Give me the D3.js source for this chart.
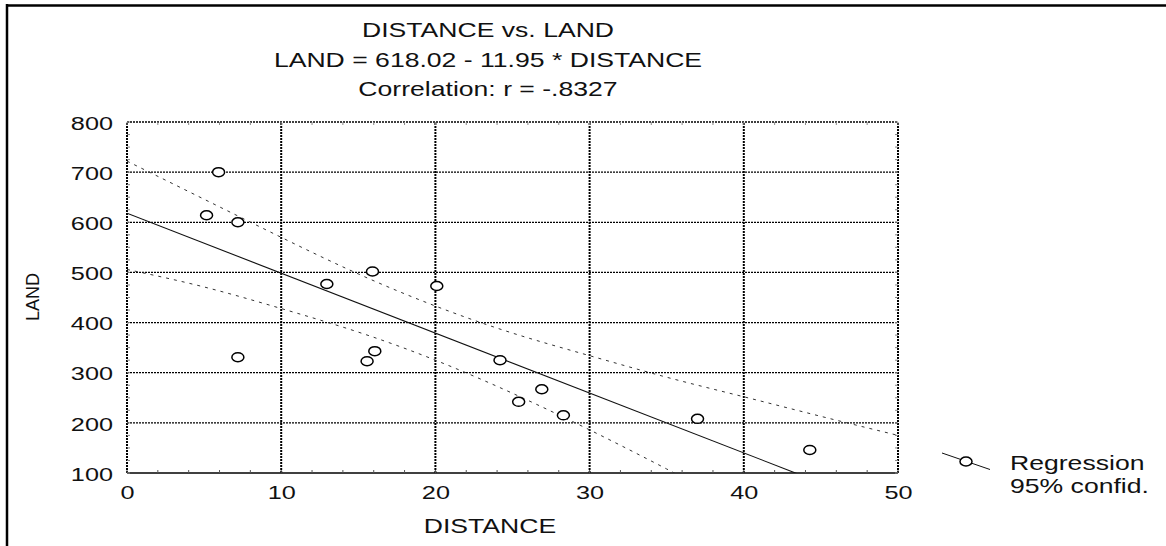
<!DOCTYPE html>
<html>
<head>
<meta charset="utf-8">
<script src="https://cdn.jsdelivr.net/npm/d3@7"></script>
<style>
  body { margin: 0; background: #fff; }
  text { font-family: "Liberation Sans", Arial, sans-serif; fill: #111; }
</style>
</head>
<body>
<svg width="1166" height="546"></svg>
<script>
// scatter points
const distance = [5.16, 5.94, 7.19, 7.19, 12.96, 15.57, 15.92, 16.07, 20.09, 24.19, 25.4, 26.9, 28.3, 37.0, 44.28];
const land     = [614, 700, 600, 331, 477, 323, 502, 343, 473, 325, 242, 267, 215, 208, 146];

// regression line from the title
const intercept = 618.02;
const slope = -11.95;

// 95% confidence band, read at these distances
const bandX     = [0, 5, 10, 15, 20, 25, 30, 35, 40, 45, 50];
const bandUpper = [722, 646, 570, 497, 433, 379, 334, 291, 252, 213, 175];
const bandLower = [506, 471, 428, 381, 325, 259, 186, 108, 28, -52, -135];

const xTicks = [0, 10, 20, 30, 40, 50];
const yTicks = [100, 200, 300, 400, 500, 600, 700, 800];
const titleLines = ['DISTANCE vs. LAND', 'LAND = 618.02 - 11.95 * DISTANCE', 'Correlation: r = -.8327'];
const legendLines = ['Regression', '95% confid.'];

const svg = d3.select('svg');
const SX = 1.33; // the picture is stretched sideways

const x = d3.scaleLinear().domain([0, 50]).range([127, 898]);
const y = d3.scaleLinear().domain([100, 800]).range([473, 122]);

// outer frame (top and left only)
svg.append('line').attr('x1', 6).attr('x2', 1166).attr('y1', 5.5).attr('y2', 5.5)
  .attr('stroke', '#000').attr('stroke-width', 2.5);
svg.append('line').attr('x1', 7).attr('x2', 7).attr('y1', 4).attr('y2', 546)
  .attr('stroke', '#000').attr('stroke-width', 2.5);

// stretched text helper
const stext = (sel, str, px, py, size, anchor) =>
  sel.append('text')
    .attr('transform', `translate(${px},${py}) scale(${SX},1)`)
    .attr('text-anchor', anchor || 'middle')
    .style('font-size', size + 'px')
    .text(str);

// title
titleLines.forEach((t, i) => stext(svg, t, 488, [36.7, 67.3, 96][i], 20));

// grid
const grid = svg.append('g');
grid.selectAll('.gy').data(yTicks).enter().append('line')
  .attr('x1', x(0)).attr('x2', x(50))
  .attr('y1', d => y(d)).attr('y2', d => y(d))
  .attr('stroke', '#000').attr('stroke-width', d => d === 100 ? 1.5 : 1.3)
  .attr('stroke-dasharray', d => d === 100 ? null : '2,1');
grid.selectAll('.gx').data(xTicks).enter().append('line')
  .attr('x1', d => x(d)).attr('x2', d => x(d))
  .attr('y1', y(100)).attr('y2', y(800))
  .attr('stroke', '#000').attr('stroke-width', 2)
  .attr('stroke-dasharray', '2,1');

// minor ticks on all four sides
const minorX = d3.range(0, 50.01, 2);
const minorY = d3.range(100, 800.01, 25);
grid.selectAll('.mb').data(minorX).enter().append('line')
  .attr('x1', d => x(d)).attr('x2', d => x(d))
  .attr('y1', y(100)).attr('y2', y(100) - 3)
  .attr('stroke', '#555').attr('stroke-width', 1);
grid.selectAll('.mt').data(minorX).enter().append('line')
  .attr('x1', d => x(d)).attr('x2', d => x(d))
  .attr('y1', y(800)).attr('y2', y(800) + 3)
  .attr('stroke', '#888').attr('stroke-width', 1);
grid.selectAll('.ml').data(minorY).enter().append('line')
  .attr('x1', x(0)).attr('x2', x(0) + 3)
  .attr('y1', d => y(d)).attr('y2', d => y(d))
  .attr('stroke', '#888').attr('stroke-width', 1);
grid.selectAll('.mr').data(minorY).enter().append('line')
  .attr('x1', x(50)).attr('x2', x(50) - 3)
  .attr('y1', d => y(d)).attr('y2', d => y(d))
  .attr('stroke', '#888').attr('stroke-width', 1);

// axes (labels only)
const yAxis = svg.append('g').attr('transform', `translate(${x(0)},0)`)
  .call(d3.axisLeft(y).tickValues(yTicks).tickSize(0).tickFormat(d3.format('d')));
yAxis.select('.domain').remove();
yAxis.selectAll('text')
  .attr('x', -14 / SX).attr('dy', '0.38em')
  .attr('transform', `scale(${SX},1)`)
  .style('font-size', '19px').attr('fill', '#111');

const xAxis = svg.append('g').attr('transform', `translate(0,${y(100)})`)
  .call(d3.axisBottom(x).tickValues(xTicks).tickSize(0));
xAxis.select('.domain').remove();
xAxis.selectAll('text')
  .attr('y', 26).attr('dy', 0)
  .attr('transform', `scale(${SX},1)`)
  .style('font-size', '19px').attr('fill', '#111');

stext(svg, 'DISTANCE', 490, 533.3, 20);
svg.append('text')
  .attr('transform', 'translate(39,297) rotate(-90)')
  .attr('text-anchor', 'middle')
  .style('font-size', '18px')
  .text('LAND');

// clip for lines
svg.append('clipPath').attr('id', 'plot').append('rect')
  .attr('x', x(0)).attr('y', y(800)).attr('width', x(50) - x(0)).attr('height', y(100) - y(800));
const plot = svg.append('g').attr('clip-path', 'url(#plot)');

const band = (vals) => d3.line()
  .x((d, i) => x(bandX[i])).y(d => y(d))
  .curve(d3.curveNatural)(vals);
[bandUpper, bandLower].forEach(v => plot.append('path')
  .attr('d', band(v)).attr('fill', 'none')
  .attr('stroke', '#333').attr('stroke-width', 1).attr('stroke-dasharray', '3,5'));

plot.append('line')
  .attr('x1', x(0)).attr('y1', y(intercept))
  .attr('x2', x(50)).attr('y2', y(intercept + slope * 50))
  .attr('stroke', '#111').attr('stroke-width', 1.1);

// points
svg.append('g').selectAll('ellipse').data(distance).enter().append('ellipse')
  .attr('cx', d => x(d)).attr('cy', (d, i) => y(land[i]))
  .attr('rx', 6).attr('ry', 4.5)
  .attr('fill', '#fff').attr('stroke', '#000').attr('stroke-width', 1.5);

// legend
const leg = svg.append('g');
leg.append('line').attr('x1', 942).attr('y1', 453).attr('x2', 990).attr('y2', 469.5)
  .attr('stroke', '#111').attr('stroke-width', 1);
leg.append('ellipse').attr('cx', 966).attr('cy', 461.5).attr('rx', 6).attr('ry', 4.5)
  .attr('fill', '#fff').attr('stroke', '#000').attr('stroke-width', 1.5);
legendLines.forEach((t, i) => stext(leg, t, 1010, [470, 492.7][i], 20, 'start'));
</script>
</body>
</html>
